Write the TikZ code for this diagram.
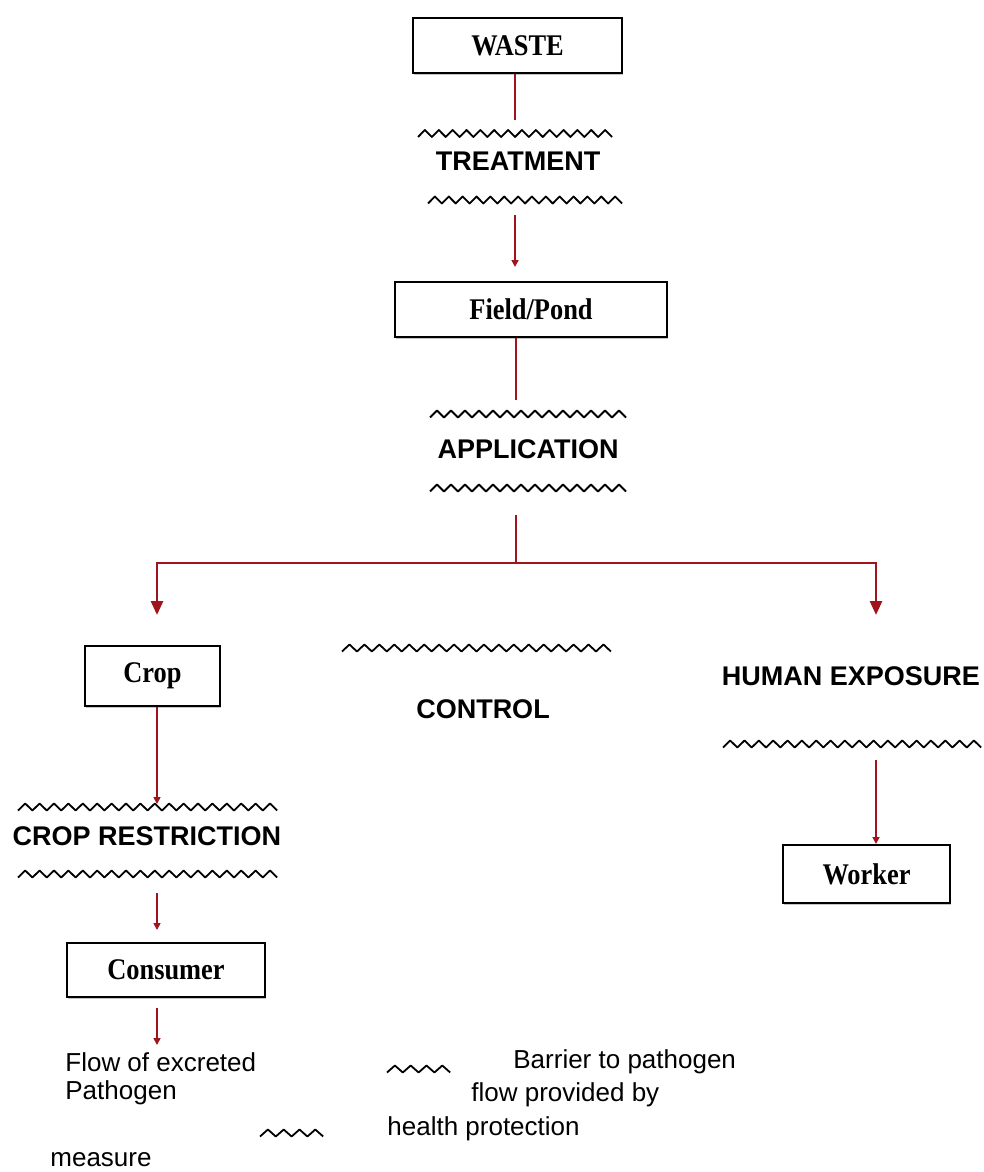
\documentclass[tikz,border=0pt]{standalone}
\usepackage{fontspec}
\setmainfont{Liberation Serif}
\setsansfont{Liberation Sans}
\newfontfamily\boxfont[FakeStretch=0.88]{Liberation Serif}
\usepackage{xcolor}
\usetikzlibrary{arrows.meta,shadows}
\definecolor{flowred}{RGB}{160,20,30}
\tikzset{
  box/.style={draw, line width=1pt, fill=white, inner sep=0pt,
    drop shadow={shadow xshift=0.7pt, shadow yshift=-0.8pt, fill=black!45},
    font=\boxfont\bfseries\fontsize{15}{17}\selectfont},
  ctrl/.style={inner sep=0pt, font=\sffamily\bfseries\fontsize{13.5}{16}\selectfont},
  legtxt/.style={inner sep=0pt, anchor=west, font=\sffamily\fontsize{13}{15}\selectfont},
  barrier/.style={draw, line width=0.9pt, line join=round},
  flow/.style={draw=flowred, line width=0.8pt},
  flowtip/.style={flow, -{Triangle[width=3.5pt,length=3.5pt]}},
  branch/.style={draw=flowred, line width=1.4pt, -{Triangle[width=6pt,length=7pt]}}
}

\begin{document}
\begin{tikzpicture}[x=0.5pt,y=-0.5pt]
\useasboundingbox (0,0) rectangle (984,1172);
% lanes
\coordinate (lx) at (157,0);
\coordinate (mx) at (516,0);
\coordinate (rx) at (876,0);
% nodes
\node[box, minimum width=104.5pt, minimum height=27.5pt] (waste) at (517.5,45.5) {WASTE};
\node[ctrl] (treat) at (518,161) {TREATMENT};
\node[box, minimum width=136pt, minimum height=27.5pt] (field) at (531,309.5) {Field/Pond};
\node[ctrl] (appl) at (528,449) {APPLICATION};
\node[box, minimum width=67.5pt, minimum height=30pt] (crop) at (152.5,676) {Crop};
\node[ctrl] (control) at (483,709) {CONTROL};
\node[ctrl] (human) at (851,676) {HUMAN EXPOSURE};
\node[ctrl] (restr) at (147,836) {CROP RESTRICTION};
\node[box, minimum width=99pt, minimum height=27pt] (consumer) at (166,970) {Consumer};
\node[box, minimum width=83.5pt, minimum height=29pt] (worker) at (866.5,874) {Worker};
% barriers
\draw[barrier] (418,137) foreach \i in {1,...,14} {-- ++(6.93,-7) -- ++(6.93,7)};
\draw[barrier] (428,203.5) foreach \i in {1,...,14} {-- ++(6.93,-7) -- ++(6.93,7)};
\draw[barrier] (430,417.5) foreach \i in {1,...,14} {-- ++(7,-7) -- ++(7,7)};
\draw[barrier] (430,491.5) foreach \i in {1,...,14} {-- ++(7,-7) -- ++(7,7)};
\draw[barrier] (342,651.5) foreach \i in {1,...,18} {-- ++(7.47,-7) -- ++(7.47,7)};
\draw[barrier] (723,747.5) foreach \i in {1,...,18} {-- ++(7.17,-7) -- ++(7.17,7)};
\draw[barrier] (18,810.5) foreach \i in {1,...,18} {-- ++(7.2,-7) -- ++(7.2,7)};
\draw[barrier] (18,877.5) foreach \i in {1,...,18} {-- ++(7.2,-7) -- ++(7.2,7)};
% free ends
\coordinate (t-in) at (515,120);
\coordinate (t-out) at (515,215);
\coordinate (a-in) at (516,400);
\coordinate (a-out) at (516,515);
\coordinate (fork) at (516,563);
\coordinate (endL) at (157,615);
\coordinate (endR) at (876,615);
\coordinate (r-in) at (157,804);
\coordinate (r-out) at (157,893);
\coordinate (h-out) at (876,760);
\coordinate (leg) at (157,1045);
% edges
\draw[flow] (waste.south -| t-in) -- (t-in);
\draw[flowtip, shorten >=7pt] (t-out) -- (field.north -| t-out);
\draw[flow] (field.south -| mx) -- (a-in);
\draw[flow, line width=1pt] (a-out) -- (fork);
\draw[branch] (fork) -| (endL);
\draw[branch] (fork) -| (endR);
\draw[flowtip] (crop.south -| lx) -- (r-in);
\draw[flowtip, shorten >=6pt] (r-out) -- (consumer.north -| lx);
\draw[flowtip] (h-out) -- (worker.north -| rx);
% legend
\draw[flowtip, shorten <=5pt] (consumer.south -| lx) -- (leg);
\node[legtxt] (flow1) at (65,1062) {Flow of excreted};
\node[legtxt] (flow2) at (65,1093) {Pathogen};
\draw[barrier] (387,1072.5) foreach \i in {1,...,4} {-- ++(7.9,-7) -- ++(7.9,7)};
\node[legtxt] (bar1) at (513,1062) {Barrier to pathogen};
\node[legtxt] (bar2) at (471,1095) {flow provided by};
\draw[barrier] (260,1136.5) foreach \i in {1,...,4} {-- ++(7.9,-7) -- ++(7.9,7)};
\node[legtxt] (bar3) at (387,1129) {health protection};
\node[legtxt] (bar4) at (50,1160) {measure};
\end{tikzpicture}
\end{document}
